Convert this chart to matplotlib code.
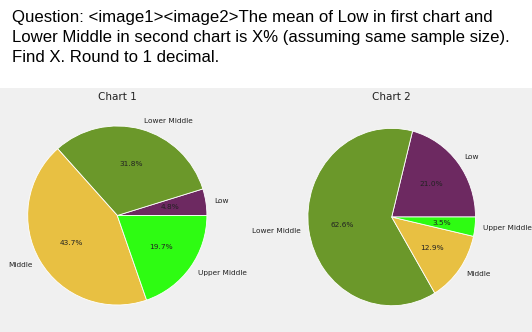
import matplotlib
matplotlib.use("Agg")
import matplotlib.pyplot as plt

# Data
categories = ["Low", "Lower Middle", "Middle", "Upper Middle"]
chart1_values = [4.8, 31.8, 43.7, 19.7]
chart2_values = [21.0, 62.6, 12.9, 3.5]
colors = ["#6d2961", "#6b982a", "#e8c042", "#2efc12"]
titles = ["Chart 1", "Chart 2"]
question = ("Question: <image1><image2>The mean of Low in first chart and\n"
            "Lower Middle in second chart is X% (assuming same sample size).\n"
            "Find X. Round to 1 decimal.")

W, H = 532, 332
fig = plt.figure(figsize=(W / 100, H / 100), dpi=100)
fig.patch.set_facecolor("white")

# grey chart area below the question
bg = fig.add_axes([0, 0, 1, 244 / H])
bg.set_facecolor("#f0f0f0")
bg.set_xticks([])
bg.set_yticks([])
for s in bg.spines.values():
    s.set_visible(False)

fig.text(12 / W, 1 - 10 / H, question, ha="left", va="top", fontsize=12.1,
         family="Liberation Sans", linespacing=1.42)


def draw_pie(cx, cy, rx, ry, values, title):
    # axes sized so radius 1 maps to rx/ry pixels with limits +-1.25
    w, h = 2.5 * rx, 2.5 * ry
    ax = fig.add_axes([(cx - w / 2) / W, 1 - (cy + h / 2) / H, w / W, h / H])
    ax.pie(values, labels=categories, colors=colors, autopct="%1.1f%%",
           startangle=0, counterclock=True,
           wedgeprops={"edgecolor": "white", "linewidth": 0.6},
           textprops={"fontsize": 5.3, "color": "#222222"})
    ax.set_xlim(-1.25, 1.25)
    ax.set_ylim(-1.25, 1.25)
    ax.set_aspect("auto")
    ax.set_facecolor("none")
    fig.text(cx / W, 1 - 97 / H, title, ha="center", va="center",
             fontsize=7.5, color="#222222")


draw_pie(117.3, 215.5, 89.6, 89.5, chart1_values, titles[0])
draw_pie(391.7, 217, 83.8, 88.7, chart2_values, titles[1])

fig.savefig("out.png", dpi=100)
